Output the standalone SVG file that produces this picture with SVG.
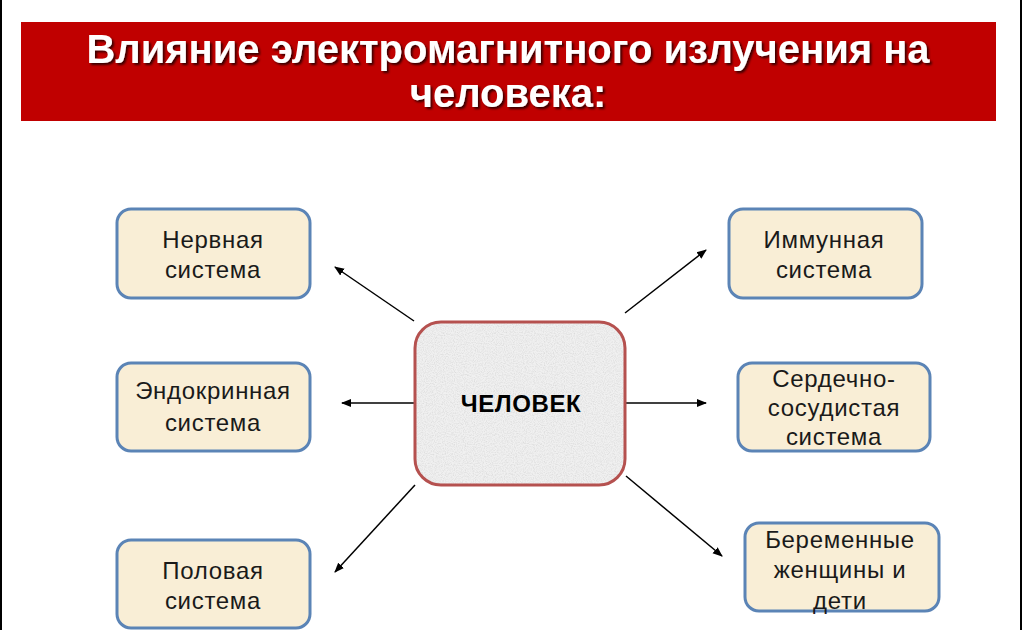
<svg xmlns="http://www.w3.org/2000/svg" width="1024" height="630" viewBox="0 0 1024 630">
<defs>
<filter id="ts" x="-5%" y="-20%" width="110%" height="150%"><feDropShadow dx="2" dy="2" stdDeviation="0.8" flood-color="#000" flood-opacity="0.7"/></filter>
<filter id="grain" x="0" y="0" width="100%" height="100%"><feTurbulence type="fractalNoise" baseFrequency="0.9" numOctaves="2" seed="3" result="n"/><feColorMatrix in="n" type="matrix" values="0 0 0 0 0.55  0 0 0 0 0.55  0 0 0 0 0.55  0 0 0 0.9 -0.35" result="g"/><feComposite in="g" in2="SourceGraphic" operator="in"/></filter>
<marker id="ah" viewBox="0 0 10 10" refX="9" refY="5" markerWidth="10" markerHeight="10" markerUnits="userSpaceOnUse" orient="auto"><path d="M0,1 L10,5 L0,9 z" fill="#000"/></marker>
<style>
.title{font-family:"Liberation Sans",Arial,sans-serif;font-weight:bold;font-size:40px;fill:#fff;text-anchor:middle}
.box{fill:#f9eed6;stroke:#5b84b6;stroke-width:3}
.lbl{font-family:"Liberation Sans",Arial,sans-serif;font-size:24px;letter-spacing:0.7px;fill:#1a1a1a;text-anchor:middle}
.conn{stroke:#000;stroke-width:1.5;fill:none;marker-end:url(#ah)}
</style>
</defs>
<rect x="0" y="0" width="1024" height="630" fill="#fff"/>
<line x1="1" y1="0" x2="1" y2="630" stroke="#000" stroke-width="2"/>
<line x1="1021" y1="0" x2="1021" y2="630" stroke="#000" stroke-width="2"/>
<g id="title">
<rect x="21" y="22" width="975" height="99" fill="#c00000"/>
<text class="title" filter="url(#ts)" x="508" y="63">Влияние электромагнитного излучения на</text>
<text class="title" filter="url(#ts)" x="508" y="107">человека:</text>
</g>
<g id="connectors">
<line class="conn" x1="414" y1="321" x2="335" y2="267"/>
<line class="conn" x1="625" y1="313" x2="706" y2="250"/>
<line class="conn" x1="415" y1="403" x2="342" y2="403"/>
<line class="conn" x1="625" y1="403" x2="706" y2="403"/>
<line class="conn" x1="415" y1="485" x2="335" y2="572"/>
<line class="conn" x1="626" y1="476" x2="722" y2="556"/>
</g>
<g id="center">
<rect x="415" y="322" width="210" height="163" rx="26" fill="#f0f0f0"/>
<rect x="415" y="322" width="210" height="163" rx="26" fill="#f0f0f0" filter="url(#grain)"/>
<rect x="415" y="322" width="210" height="163" rx="26" fill="none" stroke="#b5514f" stroke-width="3"/>
<text x="521" y="412" font-family="Liberation Sans, Arial, sans-serif" font-weight="bold" font-size="24" letter-spacing="0.6" fill="#000" text-anchor="middle">ЧЕЛОВЕК</text>
</g>
<g id="nervous">
<rect class="box" x="117" y="209" width="193" height="89" rx="14"/>
<text class="lbl" x="213" y="248">Нервная</text>
<text class="lbl" x="213" y="278">система</text>
</g>
<g id="endocrine">
<rect class="box" x="117" y="363" width="193" height="88" rx="14"/>
<text class="lbl" x="213" y="399">Эндокринная</text>
<text class="lbl" x="213" y="431">система</text>
</g>
<g id="sexual">
<rect class="box" x="117" y="540" width="193" height="88" rx="14"/>
<text class="lbl" x="213" y="579">Половая</text>
<text class="lbl" x="213" y="609">система</text>
</g>
<g id="immune">
<rect class="box" x="729" y="209" width="193" height="89" rx="14"/>
<text class="lbl" x="824" y="248">Иммунная</text>
<text class="lbl" x="824" y="278">система</text>
</g>
<g id="cardio">
<rect class="box" x="738" y="363" width="192" height="88" rx="14"/>
<text class="lbl" x="834" y="387">Сердечно-</text>
<text class="lbl" x="834" y="416">сосудистая</text>
<text class="lbl" x="834" y="445">система</text>
</g>
<g id="pregnant">
<rect class="box" x="745" y="523" width="194" height="88" rx="14"/>
<text class="lbl" x="840" y="548">Беременные</text>
<text class="lbl" x="840" y="578">женщины и</text>
<text class="lbl" x="840" y="609">дети</text>
</g>
</svg>
